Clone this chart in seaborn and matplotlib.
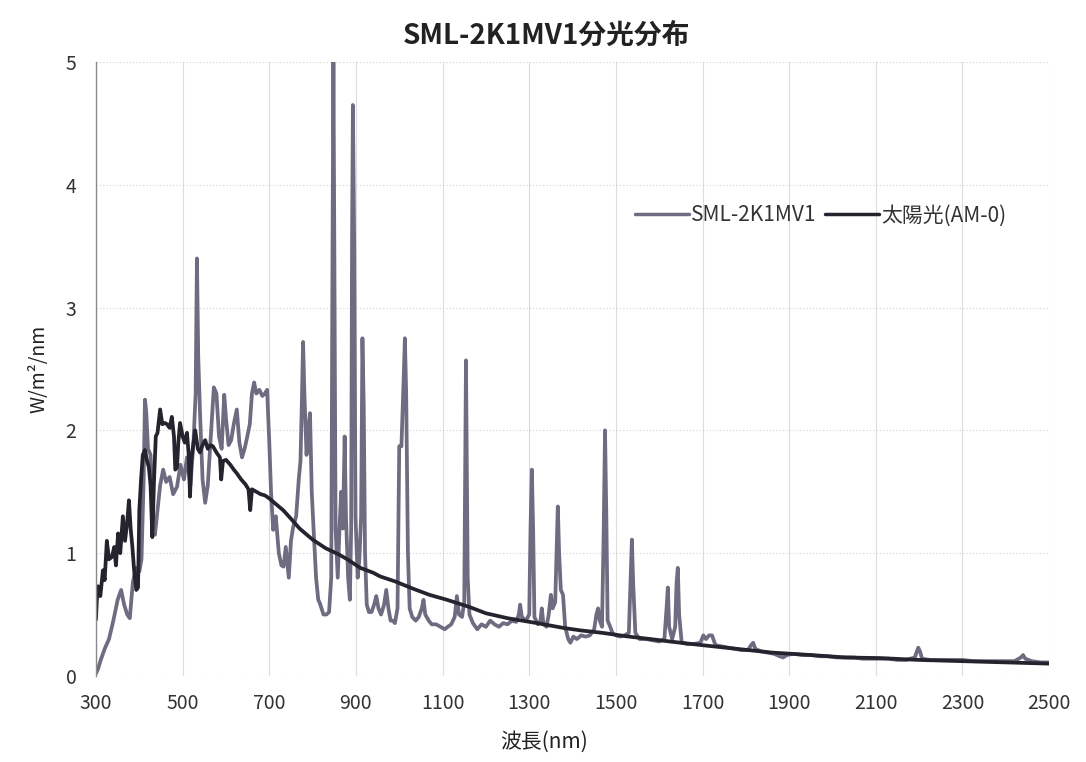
import numpy as np
import pandas as pd
import matplotlib
matplotlib.use("Agg")
import matplotlib.pyplot as plt
import seaborn as sns

title = "SML-2K1MV1分光分布"
series_names = ["SML-2K1MV1", "太陽光(AM-0)"]
x_ticks = [300, 500, 700, 900, 1100, 1300, 1500, 1700, 1900, 2100, 2300, 2500]
y_ticks = [0, 1, 2, 3, 4, 5]

sml_nm = [300, 305, 310, 320, 330, 340, 350, 358, 365, 372, 378, 385, 392, 400, 405, 410, 413, 416, 420, 426,
          432, 436, 442, 448, 455, 462, 470, 478, 487, 495, 503, 510, 518, 525, 530, 533, 536, 540, 546, 552,
          558, 565, 572, 578, 584, 590, 596, 600, 606, 612, 618, 625, 631, 637, 643, 648, 655, 660, 665, 670,
          677, 684, 690, 695, 700, 704, 709, 715, 722, 728, 733, 738, 745, 750, 755, 762, 768, 772, 775, 778,
          781, 786, 790, 794, 798, 802, 808, 813, 817, 825, 832, 838, 843, 846, 848, 850, 853, 858, 862, 866,
          870, 874, 877, 882, 886, 889, 891, 893, 896, 899, 904, 908, 912, 915, 918, 921, 925, 930, 936, 942,
          947, 952, 958, 965, 970, 975, 980, 985, 990, 996, 1000, 1005, 1010, 1013, 1016, 1020, 1024, 1030, 1038, 1045,
          1052, 1056, 1060, 1068, 1075, 1085, 1095, 1105, 1112, 1120, 1128, 1133, 1138, 1145, 1150, 1154, 1158, 1162, 1170, 1180,
          1190, 1200, 1210, 1220, 1230, 1240, 1250, 1260, 1270, 1276, 1279, 1283, 1292, 1300, 1303, 1306, 1309, 1312, 1320, 1326,
          1329, 1333, 1340, 1345, 1350, 1354, 1360, 1364, 1366, 1369, 1373, 1378, 1383, 1390, 1395, 1402, 1410, 1420, 1430, 1440,
          1450, 1455, 1459, 1463, 1468, 1472, 1475, 1478, 1481, 1487, 1492, 1500, 1510, 1520, 1530, 1534, 1537, 1540, 1545, 1555,
          1570, 1585, 1600, 1612, 1617, 1620, 1623, 1630, 1637, 1640, 1643, 1646, 1652, 1665, 1680, 1695, 1702, 1708, 1715, 1722,
          1730, 1745, 1760, 1775, 1790, 1805, 1812, 1817, 1822, 1835, 1850, 1865, 1878, 1886, 1895, 1910, 1930, 1950, 1970, 1990,
          2010, 2030, 2050, 2070, 2090, 2110, 2130, 2150, 2170, 2190, 2195, 2198, 2202, 2207, 2225, 2250, 2275, 2300, 2325, 2350,
          2375, 2400, 2420, 2435, 2440, 2445, 2460, 2480, 2500]
sml_val = [0.02, 0.06, 0.12, 0.22, 0.30, 0.45, 0.62, 0.70, 0.58, 0.50, 0.47, 0.76, 0.88, 0.85, 0.95, 1.60, 2.25, 2.15, 1.85, 1.80,
           1.30, 1.15, 1.35, 1.55, 1.68, 1.58, 1.62, 1.48, 1.54, 1.72, 1.60, 1.78, 1.55, 1.90, 2.30, 3.40, 2.60, 2.15, 1.60, 1.41,
           1.55, 1.95, 2.35, 2.30, 1.95, 1.85, 2.29, 2.10, 1.88, 1.92, 2.05, 2.17, 1.90, 1.78, 1.85, 1.93, 2.05, 2.30, 2.39, 2.30,
           2.33, 2.28, 2.30, 2.33, 1.90, 1.50, 1.19, 1.30, 1.00, 0.90, 0.89, 1.05, 0.80, 1.10, 1.21, 1.30, 1.60, 1.75, 2.20, 2.72,
           2.30, 1.80, 2.00, 2.14, 1.50, 1.21, 0.80, 0.62, 0.59, 0.50, 0.50, 0.52, 0.80, 3.50, 5.00, 3.60, 1.20, 0.80, 1.20, 1.50,
           1.20, 1.95, 1.30, 0.80, 0.62, 1.20, 3.50, 4.65, 3.50, 1.30, 0.80, 0.95, 1.30, 2.75, 2.20, 1.00, 0.58, 0.52, 0.52, 0.58,
           0.65, 0.55, 0.50, 0.58, 0.70, 0.55, 0.45, 0.45, 0.43, 0.55, 1.87, 1.87, 2.40, 2.75, 2.30, 1.00, 0.55, 0.48, 0.45, 0.48,
           0.55, 0.62, 0.50, 0.45, 0.42, 0.42, 0.40, 0.38, 0.40, 0.42, 0.48, 0.65, 0.50, 0.48, 0.60, 2.57, 0.80, 0.50, 0.43, 0.38,
           0.42, 0.40, 0.45, 0.42, 0.40, 0.43, 0.42, 0.45, 0.44, 0.50, 0.58, 0.48, 0.45, 0.50, 1.20, 1.68, 1.20, 0.48, 0.42, 0.45,
           0.55, 0.42, 0.40, 0.50, 0.66, 0.55, 0.60, 1.10, 1.38, 1.00, 0.70, 0.66, 0.40, 0.30, 0.27, 0.32, 0.30, 0.33, 0.32, 0.33,
           0.38, 0.50, 0.55, 0.45, 0.40, 1.20, 2.00, 1.30, 0.45, 0.40, 0.35, 0.33, 0.32, 0.33, 0.35, 0.80, 1.11, 0.75, 0.35, 0.30,
           0.30, 0.29, 0.28, 0.30, 0.55, 0.72, 0.40, 0.30, 0.40, 0.75, 0.88, 0.50, 0.27, 0.26, 0.26, 0.27, 0.33, 0.30, 0.33, 0.33,
           0.25, 0.24, 0.23, 0.22, 0.21, 0.21, 0.25, 0.27, 0.22, 0.20, 0.19, 0.18, 0.16, 0.15, 0.17, 0.18, 0.17, 0.17, 0.16, 0.16,
           0.15, 0.15, 0.15, 0.14, 0.14, 0.14, 0.14, 0.13, 0.13, 0.15, 0.20, 0.23, 0.20, 0.14, 0.13, 0.13, 0.13, 0.13, 0.12, 0.12,
           0.12, 0.12, 0.12, 0.15, 0.17, 0.14, 0.12, 0.11, 0.11]

sun_nm = [300, 302, 305, 310, 316, 320, 325, 330, 337, 342, 346, 351, 356, 362, 367, 372, 376, 380, 384, 388,
          393, 397, 400, 404, 408, 413, 418, 422, 426, 430, 434, 438, 442, 448, 453, 459, 464, 470, 475, 480,
          483, 487, 490, 494, 500, 505, 510, 514, 517, 520, 525, 529, 535, 540, 546, 552, 558, 564, 570, 578,
          586, 589, 593, 600, 610, 618, 625, 635, 645, 652, 656, 660, 670, 680, 690, 702, 715, 732, 750, 770,
          800, 830, 860, 880, 910, 940, 956, 990, 1032, 1070, 1110, 1163, 1200, 1250, 1318, 1380, 1420, 1470, 1530, 1580,
          1625, 1700, 1780, 1860, 1950, 2030, 2110, 2200, 2300, 2400, 2500]
sun_val = [0.46, 0.62, 0.73, 0.65, 0.86, 0.78, 1.10, 0.95, 0.97, 1.05, 0.90, 1.16, 1.00, 1.30, 1.10, 1.25, 1.43, 1.20, 1.05, 0.86,
           0.70, 0.72, 1.35, 1.60, 1.80, 1.84, 1.75, 1.70, 1.55, 1.13, 1.60, 1.95, 1.98, 2.17, 2.05, 2.06, 2.05, 2.02, 2.11, 1.95,
           1.68, 1.70, 1.90, 2.06, 1.95, 1.90, 1.98, 1.80, 1.46, 1.75, 1.90, 2.00, 1.85, 1.82, 1.88, 1.92, 1.85, 1.88, 1.87, 1.82,
           1.78, 1.60, 1.75, 1.76, 1.72, 1.68, 1.65, 1.60, 1.56, 1.52, 1.35, 1.52, 1.50, 1.48, 1.47, 1.44, 1.40, 1.35, 1.28, 1.20,
           1.11, 1.04, 0.99, 0.95, 0.88, 0.84, 0.81, 0.77, 0.71, 0.66, 0.62, 0.56, 0.51, 0.47, 0.43, 0.39, 0.37, 0.35, 0.32, 0.30,
           0.28, 0.25, 0.22, 0.19, 0.17, 0.15, 0.145, 0.13, 0.12, 0.11, 0.10]

df = pd.concat([
    pd.DataFrame({"nm": sml_nm, "val": sml_val, "series": series_names[0]}),
    pd.DataFrame({"nm": sun_nm, "val": sun_val, "series": series_names[1]}),
], ignore_index=True)

sns.set_style("white")
plt.rcParams["font.family"] = ["Noto Sans CJK JP", "DejaVu Sans"]

fig = plt.figure(figsize=(10.86, 7.62), dpi=100)
ax = fig.add_axes([0.0884, 0.113, 0.966 - 0.0884, 0.9186 - 0.113])

palette = {series_names[0]: "#6f6b80", series_names[1]: "#26232f"}
sns.lineplot(data=df, x="nm", y="val", hue="series", palette=palette,
             estimator=None, sort=False, linewidth=2.7, ax=ax, legend=True)

ax.set_xlim(300, 2500)
ax.set_ylim(0, 5)
ax.set_xticks(x_ticks)
ax.set_yticks(y_ticks)
ax.tick_params(axis="both", labelsize=14, colors="#333333", length=0)
ax.tick_params(axis="y", pad=14)
ax.tick_params(axis="x", pad=12)

ax.grid(axis="x", color="#dcdcdc", linewidth=0.8, linestyle="-")
ax.grid(axis="y", color="#d0d0d0", linewidth=0.8, linestyle=(0, (1, 2)))
ax.set_axisbelow(True)

for s in ["top", "right", "bottom"]:
    ax.spines[s].set_visible(False)
ax.spines["left"].set_color("#8a8a8a")
ax.spines["left"].set_linewidth(1.0)

fig.text(0.503, 0.953, title, fontsize=20, fontweight="bold", color="#222222",
         ha="center", va="center")
ax.set_xlabel("波長(nm)", fontsize=15, color="#222222", labelpad=8)
ax.xaxis.set_label_coords(0.47, -0.09)
ax.set_ylabel("W/m²/nm", fontsize=14, color="#222222", labelpad=12)

leg = ax.legend(loc="center", bbox_to_anchor=(0.76, 0.75), ncol=2, frameon=False,
                fontsize=15, handlelength=2.6, handletextpad=0.1, columnspacing=0.4)
for line in leg.get_lines():
    line.set_linewidth(2.5)
for t in leg.get_texts():
    t.set_color("#333333")

fig.savefig("out.png", dpi=100, facecolor="white")
